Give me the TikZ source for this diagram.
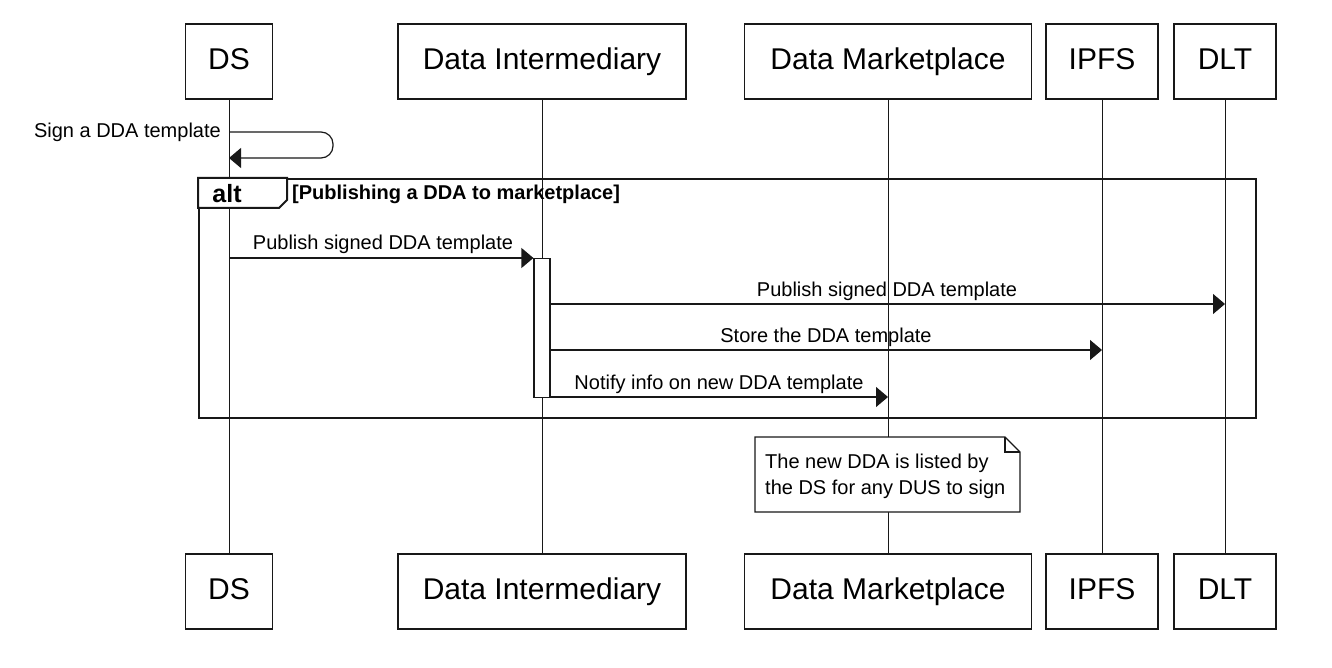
\documentclass[tikz,border=0pt]{standalone}
\usepackage{fontspec}
\setmainfont{Liberation Sans}
\usetikzlibrary{arrows.meta}
\definecolor{linecol}{HTML}{181818}
\begin{document}
\begin{tikzpicture}[x=1pt,y=-1pt,
  part/.style={draw=linecol, line width=1.2pt, fill=white, minimum height=75pt,
    inner sep=0pt, text height=22pt, text depth=6pt, font=\fontsize{30}{36}\selectfont},
  life/.style={draw=linecol, line width=1pt},
  msg/.style={draw=linecol, line width=1.2pt, -{Triangle[length=12pt,width=20pt]}},
  mlabel/.style={font=\fontsize{20}{24}\selectfont, anchor=base, inner sep=0pt},
  frame/.style={draw=linecol, line width=2pt},
]
\useasboundingbox (0,0) rectangle (1332,668);

% participants (top)
\node[part, minimum width=87pt]  (dsT)  at (229,61.5)  {DS};
\node[part, minimum width=288pt] (diT)  at (542,61.5)  {Data Intermediary};
\node[part, minimum width=287pt] (dmT)  at (888,61.5)  {Data Marketplace};
\node[part, minimum width=112pt] (ipT)  at (1102,61.5) {IPFS};
\node[part, minimum width=102pt] (dlT)  at (1225,61.5) {DLT};
% participants (bottom)
\node[part, minimum width=87pt]  (dsB)  at (229,591.5)  {DS};
\node[part, minimum width=288pt] (diB)  at (542,591.5)  {Data Intermediary};
\node[part, minimum width=287pt] (dmB)  at (888,591.5)  {Data Marketplace};
\node[part, minimum width=112pt] (ipB)  at (1102,591.5) {IPFS};
\node[part, minimum width=102pt] (dlB)  at (1225,591.5) {DLT};

% lifelines
\draw[life] (dsT.south) -- (dsB.north);
\draw[life] (diT.south) -- (diB.north);
\draw[life] (dmT.south) -- (dmB.north);
\draw[life] (ipT.south) -- (ipB.north);
\draw[life] (dlT.south) -- (dlB.north);

% self message
\coordinate (selfR) at (333,132);
\draw[msg, rounded corners=12pt] (dsT |- selfR) -- (selfR) -- (333,158) -- (dsT |- 0,158);
\node[mlabel, anchor=base east] (selfL) at (221,138) {Sign a DDA template};

% alt frame
\node[frame, minimum width=1057pt, minimum height=239pt, inner sep=0pt, anchor=north west] (altF) at (198,178) {};
\draw[frame, fill=white] (198,178) -- (287,178) -- (287,200) -- (279,208) -- (198,208) -- cycle;
\node[font=\fontsize{25}{30}\selectfont\bfseries, anchor=base, inner sep=0pt] (altK) at (227,203) {alt};
\node[font=\fontsize{20}{24}\selectfont\bfseries, anchor=base west, inner sep=0pt] (altG) at (292,200) {[Publishing a DDA to marketplace]};

% activation bar
\node[draw=linecol, line width=1.2pt, fill=white, minimum width=16pt, minimum height=139pt,
  inner sep=0pt, anchor=north] (act) at (542,258) {};

% messages
\draw[msg] (dsT |- act.north west) -- (act.north west);
\node[mlabel] (l1) at (383,250) {Publish signed DDA template};

\coordinate (y2) at (0,304);
\draw[msg] (act.east |- y2) -- (dlT |- y2);
\node[mlabel] (l2) at (887,296) {Publish signed DDA template};

\coordinate (y3) at (0,350);
\draw[msg] (act.east |- y3) -- (ipT |- y3);
\node[mlabel] (l3) at (826,342) {Store the DDA template};

\coordinate (y4) at (0,397);
\draw[msg] (act.east |- y4) -- (dmT |- y4);
\node[mlabel] (l4) at (719,389) {Notify info on new DDA template};

% note
\draw[draw=linecol, line width=1.2pt, fill=white]
  (755,437) -- (1005,437) -- (1020,452) -- (1020,512) -- (755,512) -- cycle;
\draw[draw=linecol, line width=1.2pt] (1005,437) -- (1005,452) -- (1020,452);
\node[font=\fontsize{20}{26}\selectfont, align=left, inner sep=0pt, anchor=north west] (noteT)
  at (765,454) {The new DDA is listed by\\the DS for any DUS to sign};
\end{tikzpicture}
\end{document}
